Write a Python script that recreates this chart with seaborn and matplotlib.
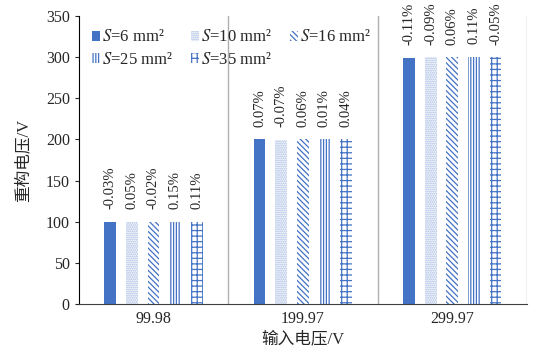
import pandas as pd
import matplotlib
matplotlib.use('Agg')
import matplotlib.pyplot as plt
import seaborn as sns

# chart data
inputs = ['99.98', '199.97', '299.97']
areas = ['6', '10', '16', '25', '35']
v_s6 = [99.95, 200.11, 299.64]
v_s10 = [100.03, 199.83, 299.70]
v_s16 = [99.96, 200.09, 300.15]
v_s25 = [100.13, 199.99, 300.30]
v_s35 = [100.09, 200.05, 299.82]
err_s6 = ['-0.03%', '0.07%', '-0.11%']
err_s10 = ['0.05%', '-0.07%', '-0.09%']
err_s16 = ['-0.02%', '0.06%', '0.06%']
err_s25 = ['0.15%', '0.01%', '0.11%']
err_s35 = ['0.11%', '0.04%', '-0.05%']

values = [v_s6, v_s10, v_s16, v_s25, v_s35]
errors = [err_s6, err_s10, err_s16, err_s25, err_s35]
legend_names = [r'$S$=' + a + ' mm²' for a in areas]

rows = []
for name, vals in zip(legend_names, values):
    for x, v in zip(inputs, vals):
        rows.append({'input': x, 'series': name, 'value': v})
df = pd.DataFrame(rows)

sns.set_style('white')
plt.rcParams['font.family'] = ['Liberation Serif', 'Noto Sans CJK SC']
plt.rcParams['mathtext.fontset'] = 'stix'
plt.rcParams['hatch.linewidth'] = 0.9

blue = '#4472C4'
light = '#9DB4E0'
hatches = ['', '........', '\\\\\\\\\\\\', '||||||', '+++']
edges = [blue, light, blue, blue, blue]
faces = [blue, 'white', 'white', 'white', 'white']

fig = plt.figure(figsize=(5.36, 3.58), dpi=100)
ax = fig.add_axes([0.147, 0.151, 0.836, 0.804])

sns.barplot(data=df, x='input', y='value', hue='series', order=inputs,
            hue_order=legend_names, width=0.725, gap=0.45, ax=ax,
            palette=[blue] * 5, legend=True)

for i, cont in enumerate(ax.containers):
    for p in cont.patches:
        p.set_facecolor(faces[i])
        p.set_edgecolor(edges[i])
        p.set_hatch(hatches[i])
        p.set_linewidth(0)
    ax.bar_label(cont, labels=errors[i], rotation=90, padding=9, fontsize=10.5)

for xs in [0.5, 1.5, 2.5]:
    ax.axvline(xs, color='#b0b0b0', lw=1)

ax.set_xlim(-0.5, 2.5)
ax.set_ylim(0, 350)
ax.set_yticks(range(0, 351, 50))
ax.tick_params(axis='y', direction='out', length=3, width=0.8, labelsize=11.5, left=True)
ax.tick_params(axis='x', length=0, labelsize=11.5, pad=5)
for s in ['top', 'right']:
    ax.spines[s].set_visible(False)
ax.spines['left'].set_color('black')
ax.spines['bottom'].set_color('#404040')
ax.set_xlabel('输入电压/V', fontsize=12, labelpad=3)
ax.set_ylabel('重构电压/V', fontsize=12, labelpad=10)

handles, labels = ax.get_legend_handles_labels()
for i, h in enumerate(handles):
    h.set_facecolor(faces[i])
    h.set_edgecolor(edges[i])
    h.set_hatch(hatches[i])
    h.set_linewidth(0)
order = [0, 3, 1, 4, 2]
ax.legend([handles[k] for k in order], [labels[k] for k in order], ncol=3,
          loc='upper left', bbox_to_anchor=(0.0, 1.0),
          frameon=False, fontsize=12, handlelength=0.45, handleheight=0.55,
          handletextpad=0.15, columnspacing=1.1, labelspacing=0.4,
          borderaxespad=0.4)

fig.savefig('out.png', dpi=100)
